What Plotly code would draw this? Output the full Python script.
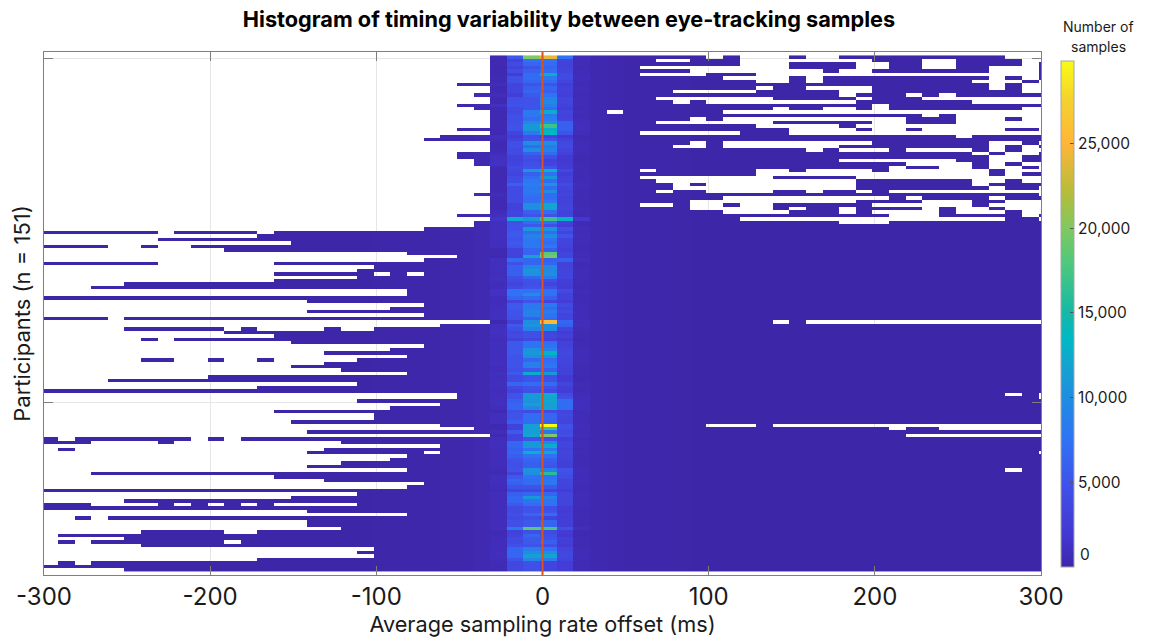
import plotly.graph_objects as go

N_ROWS = 150
BIN_EDGES = [-301.6 + 10 * j for j in range(62)]
ROW_EDGES = list(range(N_ROWS + 1))

# first occupied bin of each participant row
START_BIN = [27,27,27,27,27,27,27,27,25,27, 27,26,27,27,25,26,27,27,27,27,
             27,25,27,24,23,27,27,27,25,25, 26,26,27,27,27,27,27,27,27,27,
             26,27,27,27,27,27,25,27,26,26, 23,0,13,7,15,0,11,22,25,23,
             0,20,19,14,19,14,5,3,22,22, 0,16,23,21,16,23,0,27,24,5,
             11,14,6,15,23,21,17,22,6,17, 15,18,22,10,4,19,13,0,25,25,
             19,24,21,14,20,20,15,24,26,16, 27,0,0,24,1,16,22,21,18,16,
             22,3,14,17,23,22,0,19,15,5, 0,0,16,22,2,16,16,18,6,1,
             5,1,6,20,19,20,13,1,0,5]

# empty bin runs (from, to) inside each row
EMPTY_RUNS = {
 0:[(40,41),(42,45),(46,48),(58,61)], 1:[(37,39),(42,50),(53,55),(59,61)],
 2:[(42,45),(49,51),(53,55),(59,60)], 3:[(36,45),(49,51),(53,55),(57,60)],
 4:[(39,47),(48,50),(57,60)], 5:[(36,40),(43,60)],
 6:[(41,45),(46,47),(57,58),(59,60)], 7:[(43,45),(46,47),(56,59),(60,61)],
 8:[(57,58),(59,61)], 9:[(43,44),(46,50),(57,58),(59,61)],
 10:[(38,43),(48,50),(59,61)], 11:[(48,49),(52,53),(54,55)],
 12:[(37,44),(49,50),(53,61)], 13:[(38,39),(40,49),(56,61)],
 14:[(50,51)], 15:[(44,45),(47,49),(50,51),(59,61)],
 16:[(34,35),(41,61)], 17:[(53,54),(55,61)],
 18:[(39,40),(41,52),(55,58),(59,61)], 19:[(37,44),(50,52),(55,61)],
 20:[(43,48),(49,61)], 21:[(45,49),(50,52),(53,58),(60,61)],
 22:[(36,42),(45,61)], 23:[(55,56)],
 25:[(39,40),(41,50),(57,59),(60,61)], 26:[(38,40),(41,48),(57,58),(59,60)],
 27:[(46,47),(48,51),(52,56),(57,58),(59,61)], 28:[(56,57),(58,60)],
 29:[(57,59)], 30:[(48,55),(57,59)], 31:[(52,56),(57,58),(59,61)],
 32:[(51,52),(54,56),(57,59),(60,61)], 33:[(36,37),(43,45),(46,50),(51,57),(58,61)],
 34:[(43,57),(58,59)], 35:[(36,44),(49,61)],
 36:[(37,49),(56,58),(59,61)], 37:[(38,39),(40,49),(56,57)],
 38:[(38,49),(57,58),(60,61)], 39:[(37,38),(40,44),(46,47),(49,50),(51,61)],
 40:[(60,61)], 41:[(41,51),(52,53),(57,58)], 42:[(39,49),(53,56),(58,61)],
 43:[(36,38),(39,41),(42,44),(50,56),(57,61)],
 44:[(39,44),(45,46),(48,49),(53,54),(55,57),(58,61)],
 45:[(41,45),(48,49),(50,54),(55,58),(59,61)], 46:[(51,54),(59,60)],
 47:[(42,58),(60,61)], 48:[(48,51)],
 51:[(7,8),(13,14)], 55:[(4,6),(7,9)], 60:[(7,14)], 63:[(20,21),(22,23)],
 76:[(4,5)], 77:[(44,45),(46,61)], 79:[(11,12),(13,17),(18,20)], 82:[(7,8)],
 88:[(8,10),(11,13),(14,19)], 98:[(58,59),(60,61)], 99:[(60,61)],
 107:[(40,43),(44,61)], 108:[(51,52),(54,61)], 110:[(52,61)],
 111:[(1,2),(9,10),(11,12)], 112:[(3,7),(8,18)], 114:[(2,17)],
 115:[(23,24),(60,61)], 120:[(58,59)],
 130:[(3,7),(8,9),(10,11),(12,13),(14,19)], 134:[(3,4)], 138:[(11,13)],
 141:[(2,3),(11,12)], 147:[(2,3)],
}

C27 = [500,500,400,350,500,500,600,450,750,500, 500,750,400,400,1100,600,500,500,500,500,
       450,500,500,1000,750,500,500,600,750,1100, 1100,1250,600,500,500,500,500,500,500,500,
       750,600,500,500,500,750,1000,1500,1000,1000, 1000,1000,1000,1000,900,900,400,400,350,1000,
       900,1000,900,900,1000,1000,750,750,1250,1250, 750,750,900,900,1000,1000,1000,350,1000,1000,
       1250,1000,750,900,900,1000,900,900,900,1000, 750,750,1000,900,900,1000,900,750,900,900,
       1000,1000,750,500,900,900,900,350,350,750, 350,750,900,900,750,750,750,750,750,750,
       600,600,900,900,900,750,600,750,750,750, 750,750,750,750,750,750,750,900,600,600,
       750,750,750,750,900,900,750,600,600,600]

C28 = [5500,3000,4000,3200,4200,2400,4500,4500,3500,3500, 3500,2800,4500,4500,5000,4000,4000,4500,4500,4500,
       5000,5000,3500,2500,3500,4500,4500,4000,4000,3000, 3000,3500,4000,3800,3500,4000,4200,6000,4000,4000,
       4000,4000,4000,3000,3000,3500,3500,12500,4500,5000, 5000,5500,5500,5000,5500,5000,3200,3200,3000,7000,
       4500,6000,6000,6000,4500,4000,3500,4000,7500,7500, 6500,3500,5500,5500,5000,5000,4500,3000,5500,4500,
       3800,4000,3000,5500,5500,5500,5500,5000,5000,5000, 5000,4500,5500,4000,4000,6500,4000,3500,5000,5000,
       6000,6500,6500,4500,5000,5000,5800,3000,3000,5500, 3500,3500,6500,6500,6000,6500,6000,5000,4500,4500,
       5000,3500,5500,6500,6000,5000,3500,6000,6500,6500, 5500,4000,4000,4500,4000,4500,4500,8000,3000,3500,
       4000,4000,4500,6500,6500,6500,5000,3800,3800,3800]

C29 = [20000,7500,6500,5000,6000,7000,7000,6500,5000,6000, 6500,5500,5000,5000,5000,5000,8000,8000,7000,9500,
       11000,11000,8000,4500,5000,10000,7000,10000,6000,4500, 4000,4500,5000,11000,6000,7000,8000,8500,8000,8000,
       7500,7000,7000,10000,10000,6000,5000,11000,7000,5500, 11000,7000,9000,8000,8000,8000,6500,6500,12000,6500,
       6500,9500,11000,10500,6500,4800,4500,5000,7500,10000, 7000,5000,8000,8000,9000,9000,6000,10000,10500,9000,
       4500,4500,3800,7500,7500,10500,11000,10000,6500,8500, 8500,5500,12500,5000,5000,7000,5000,4500,11000,11000,
       10500,11500,9500,4000,7000,7000,7000,11500,11500,11500, 12000,5000,11000,11000,7500,13000,7500,6500,6000,6000,
       10500,10000,7500,7000,7000,5000,3800,6500,11000,7500, 7000,5000,5000,6500,4500,5500,5500,18500,4500,6500,
       5500,5500,5000,8500,10000,11500,9500,4800,4500,4500]

C30 = [24000,7500,7000,6500,7000,12500,8000,7000,5000,6500, 6000,7500,9000,9500,8500,7000,12500,8000,8500,10500,
       17000,13000,13500,3500,5000,10000,8000,9000,7000,4500, 3000,3500,5000,13500,7500,11000,7000,10500,7000,10000,
       7000,7000,8000,12000,12000,7000,5000,17000,7000,4500, 10500,7000,10000,7500,7000,8000,6000,18500,19500,6000,
       6500,9500,9500,10000,8000,4500,3500,4500,7500,7500, 6000,3500,8000,7000,8500,7500,7000,25500,10500,10000,
       3500,3800,3000,7000,7500,9000,13000,10500,7000,7500, 8000,6000,11000,4500,4500,7000,5000,4000,12500,12000,
       12000,11500,11800,4000,6500,6500,6000,29880,17000,7500, 20000,4500,9500,12500,8000,12000,7500,6000,5500,5000,
       8500,16000,7500,8000,8000,5500,3200,6500,9000,7500, 7500,4500,5000,7000,3500,6500,6500,17500,4000,4500,
       5000,6000,4500,7500,10000,12000,8500,3500,3500,3500]

C31 = [7500,3500,3000,3000,3500,4000,4000,3500,2500,3000, 3000,2800,3500,3500,3000,2400,3500,3000,3500,6000,
       6000,6000,5000,2000,3000,3800,4000,3500,3000,2000, 2000,2200,2500,3800,2600,3000,3000,4000,3500,3000,
       3500,3000,3000,3200,3500,3000,3000,13000,3000,2500, 4500,3500,5000,3500,3500,3000,2800,3500,3500,6000,
       3000,3000,3500,3500,3500,2500,2500,2300,4000,3000, 3000,2500,4000,3500,4000,3500,3500,6500,6000,3500,
       2500,3000,2000,3000,3000,3500,3800,3500,3500,3500, 3000,3000,3000,2200,2300,3500,2800,2500,4000,4500,
       7000,7000,7000,3500,3800,3500,3500,4800,4500,4000, 4500,2800,3500,3500,3000,3500,3200,3000,2800,2800,
       5000,4500,4200,3500,3500,3200,2500,3300,3300,3300, 3500,2500,2300,2800,2400,2800,2800,4500,2300,2000,
       2800,2800,2300,3500,3800,3800,3500,2500,2500,2500]

C32 = [750,700,650,600,700,700,750,650,600,650, 650,600,700,700,650,550,700,600,700,900,
       900,850,750,500,600,700,700,650,600,500, 500,550,550,650,550,600,600,750,650,600,
       650,600,600,600,650,600,600,1800,600,550, 750,650,800,650,650,600,550,650,650,850,
       600,600,650,650,650,550,550,500,700,600, 600,550,700,650,700,650,650,750,850,650,
       550,600,500,600,600,650,700,650,650,650, 600,600,600,500,500,650,550,550,700,750,
       950,950,950,650,700,650,650,750,750,700, 750,550,650,650,600,650,600,600,550,550,
       750,700,700,650,650,600,550,650,650,650, 650,550,500,600,550,600,600,850,500,500,
       600,600,500,650,700,700,650,550,550,550]

TAIL_LEFT = [10,10,10,10,10,10,15,15,15,15,20,20,20,25,25,30,30,35,40,50,60,80,100,140,190,280,450]
TAIL_RIGHT = [350,220,150,110,85,65,55,45,40,35,30,28,25,22,20,20,18,18,15,15,12,12,10,10,10,8,8,8]

X_TICKS = [-300, -200, -100, 0, 100, 200, 300]
X_LABELS = ["-300", "-200", "-100", "0", "100", "200", "300"]
Y_TICKS = [1, 101]
CB_TICKS = [5000, 10000, 15000, 20000, 25000]
CB_LABELS = ["5,000", "10,000", "15,000", "20,000", "25,000"]
Z_MAX = 29880

PARULA = [[0, "#3e26a8"], [0.06, "#4436d0"], [0.167, "#3f53ea"], [0.25, "#2f72f5"],
          [0.335, "#1f8de0"], [0.40, "#14a3d0"], [0.45, "#00b8c4"], [0.50, "#14b8a8"],
          [0.60, "#4fc87c"], [0.67, "#80c860"], [0.74, "#b4bd3a"], [0.837, "#ffb53a"],
          [0.92, "#f5d030"], [1, "#f9fb15"]]

CENTRE = {27: C27, 28: C28, 29: C29, 30: C30, 31: C31, 32: C32}
z = []
for r in range(N_ROWS):
    row = []
    for j in range(61):
        if j < 27:
            v = TAIL_LEFT[j]
        elif j >= 33:
            v = TAIL_RIGHT[j - 33]
        else:
            v = CENTRE[j][r]
        row.append(v if j >= START_BIN[r] else None)
    for a, b in EMPTY_RUNS.get(r, []):
        for j in range(a, b):
            row[j] = None
    z.append(row)

FONT = "Inter, 'Noto Sans', sans-serif"
INK = "#1a1a1a"
AXIS = "#7f7f7f"
PAGE = 8  # default page margin of the html body

fig = go.Figure(go.Heatmap(
    x=BIN_EDGES, y=ROW_EDGES, z=z, zmin=0, zmax=Z_MAX, colorscale=PARULA,
    hoverongaps=False, zsmooth=False,
    colorbar=dict(
        lenmode="pixels", len=506, thicknessmode="pixels", thickness=13,
        x=1.0200, xanchor="left", xpad=0, y=0.0153, yanchor="bottom", ypad=0,
        outlinecolor="#a6a6a6", outlinewidth=1, borderwidth=0,
        tickmode="array", tickvals=CB_TICKS, ticktext=CB_LABELS,
        ticks="inside", ticklen=4, tickcolor="#555555", tickwidth=1,
        tickfont=dict(family=FONT, size=15.5, color=INK),
    ),
))

fig.add_shape(type="line", xref="x", yref="paper", x0=0, x1=0, y0=0, y1=1,
              line=dict(color="#d8541f", width=2))

W, H = 1153 - PAGE, 639 - PAGE
fig.update_layout(
    width=W, height=H, paper_bgcolor="white", plot_bgcolor="white",
    margin=dict(l=43.5 - PAGE, r=112, t=52.3 - PAGE, b=64, autoexpand=False),
    font=dict(family=FONT, color=INK),
    title=dict(text="<b>Histogram of timing variability between eye-tracking samples</b>",
               x=(569 - PAGE) / W, xanchor="center", y=1 - (19 - PAGE) / H, yanchor="middle",
               font=dict(family=FONT, size=21.7, color="#000000")),
    xaxis=dict(range=[-300, 300], tickmode="array", tickvals=X_TICKS, ticktext=X_LABELS,
               ticks="inside", ticklen=9, tickcolor=AXIS, tickwidth=1,
               showline=True, linecolor=AXIS, linewidth=1, mirror="ticks",
               showgrid=True, gridcolor="#e6e6e6", gridwidth=1, zeroline=False,
               tickfont=dict(family=FONT, size=24, color=INK),
               title=dict(text="Average sampling rate offset (ms)", standoff=5,
                          font=dict(family=FONT, size=21.7, color=INK))),
    yaxis=dict(range=[151, -1], tickmode="array", tickvals=Y_TICKS, showticklabels=False,
               ticks="inside", ticklen=9, tickcolor=AXIS, tickwidth=1,
               showline=True, linecolor=AXIS, linewidth=1, mirror="ticks",
               showgrid=True, gridcolor="#e6e6e6", gridwidth=1, zeroline=False,
               title=dict(text="Participants (n = 151)", standoff=6,
                          font=dict(family=FONT, size=22, color=INK))),
    annotations=[
        dict(text="Number of", xref="paper", yref="paper",
             x=(1099 - 43.5) / 997.5, y=(575 - 26.5) / 522.7, xanchor="center", yanchor="middle",
             showarrow=False, font=dict(family=FONT, size=14, color=INK)),
        dict(text="samples", xref="paper", yref="paper",
             x=(1099 - 43.5) / 997.5, y=(575 - 46.5) / 522.7, xanchor="center", yanchor="middle",
             showarrow=False, font=dict(family=FONT, size=14, color=INK)),
        dict(text="0", xref="paper", yref="paper",
             x=(1078 - 43.5) / 997.5, y=(575 - 555) / 522.7, xanchor="left", yanchor="middle",
             showarrow=False, font=dict(family=FONT, size=15.5, color=INK)),
    ],
)

fig.write_html("out.html")
